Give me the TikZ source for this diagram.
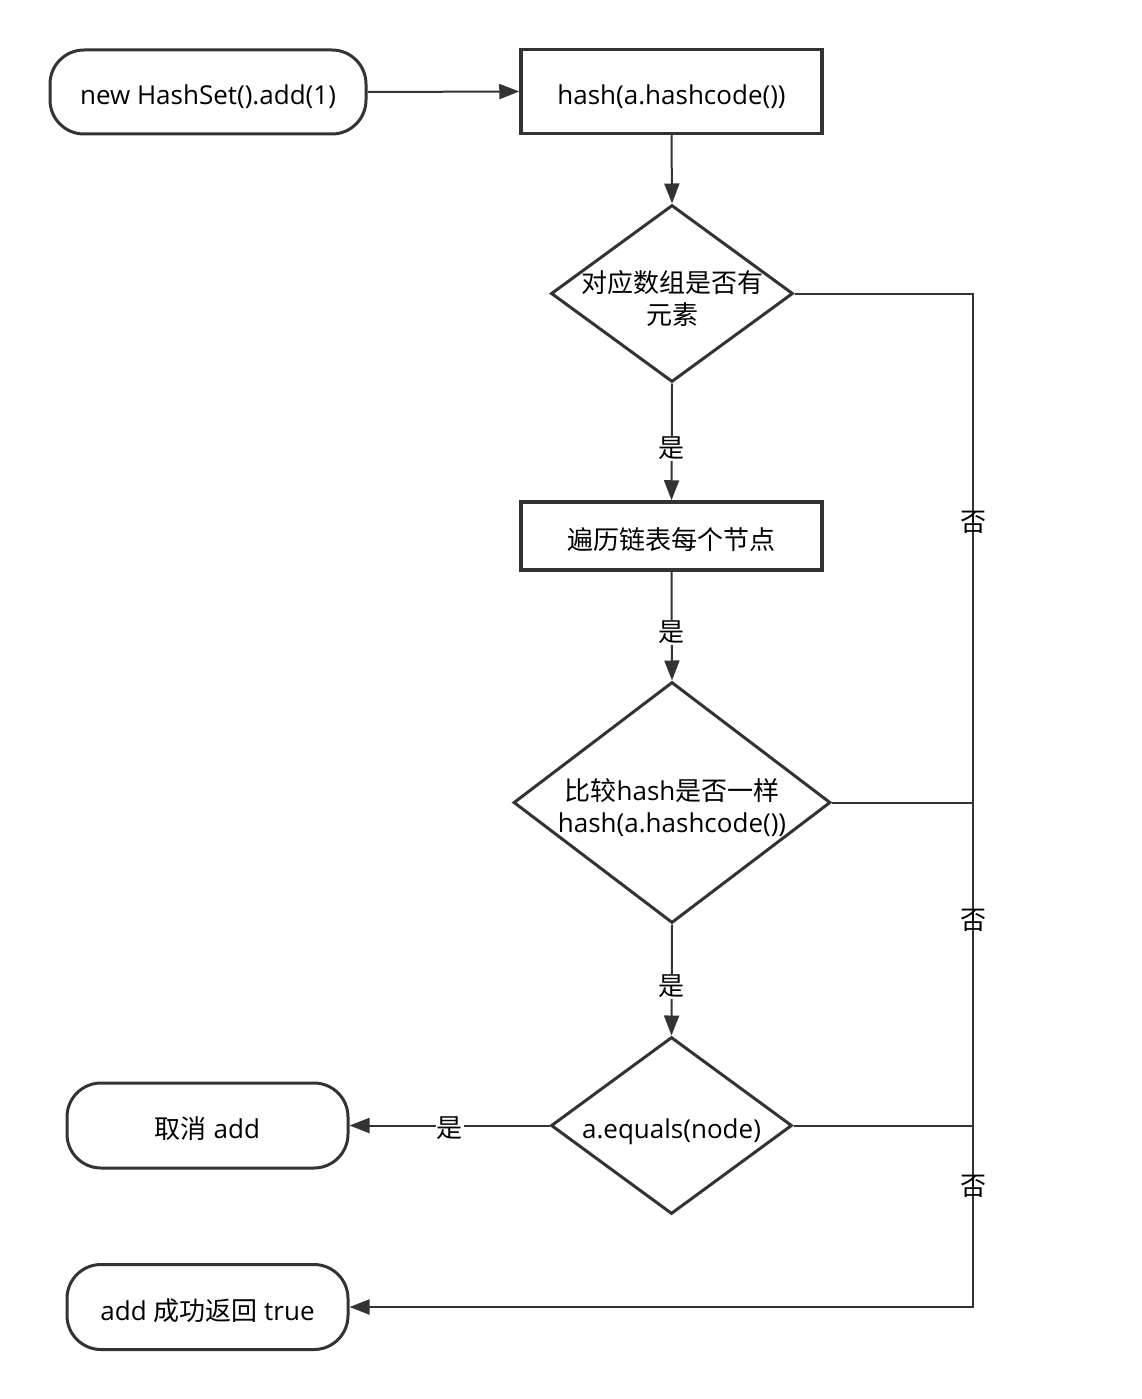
\documentclass[tikz,border=0pt]{standalone}
\usepackage{fontspec}
\setmainfont{Open Sans}
\newfontfamily\cjk{Noto Sans CJK SC}
\usetikzlibrary{shapes.geometric,arrows.meta}
\definecolor{lc}{HTML}{333333}
\begin{document}
\begin{tikzpicture}[x=1pt,y=-1pt,
  every node/.style={font=\fontsize{26}{32}\selectfont, text=black},
  tx/.style={text height=30pt, text depth=4pt},
  term/.style={tx, draw=lc, line width=3pt, rounded corners=34pt, inner sep=0pt},
  proc/.style={tx, draw=lc, line width=3.5pt, rectangle, inner sep=0pt, minimum width=301pt},
  dia/.style={draw=lc, line width=3pt, diamond, inner sep=0pt},
  conn/.style={draw=lc, line width=2pt},
  arr/.style={conn, -{Triangle[length=20pt,width=15pt]}},
  lab/.style={fill=white, inner sep=1pt, yshift=-3pt},
  nolab/.style={inner sep=0pt}]
\useasboundingbox (0,0) rectangle (1142,1399);
% nodes
\node[term, minimum width=316pt, minimum height=84pt] (start) at (208,92) {new HashSet().add(1)};
\node[proc, minimum height=84pt] (hash) at (671.5,91.5) {hash(a.hashcode())};
\node[dia, minimum width=242pt, minimum height=177pt] (d1) at (672,293.5) {};
\node[align=center] (d1t) at (672,298) {{\cjk 对应数组是否有}\\{\cjk 元素}};
\node[proc, minimum height=68pt] (walk) at (671.5,536) {\cjk 遍历链表每个节点};
\node[dia, minimum width=317pt, minimum height=241pt] (d2) at (672,802.5) {};
\node[align=center] (d2t) at (672,808) {{\cjk 比较}hash{\cjk 是否一样}\\hash(a.hashcode())};
\node[dia, minimum width=241pt, minimum height=177pt] (d3) at (671.5,1125.5) {};
\node[tx, inner sep=0pt] (d3t) at (671.5,1125.5) {a.equals(node)};
\node[term, minimum width=281pt, minimum height=85pt] (cancel) at (207.5,1125.5) {{\cjk 取消} add};
\node[term, minimum width=281pt, minimum height=85pt] (ok) at (207.5,1307) {add {\cjk 成功返回} true};
\coordinate (rx) at (973,0);
% connectors
\draw[arr] (start.east) -- (hash.west);
\draw[arr] (hash.south) -- (d1.north);
\draw[arr] (d1.south) -- node[lab, pos=0.53] (l1) {\cjk 是} (walk.north);
\draw[arr] (walk.south) -- node[lab, pos=0.53] (l2) {\cjk 是} (d2.north);
\draw[arr] (d2.south) -- node[lab, pos=0.53] (l3) {\cjk 是} (d3.north);
\draw[arr] (d3.west) -- node[lab, pos=0.5] (l4) {\cjk 是} (cancel.east);
\draw[arr] (d1.east) -- (d1.east -| rx) -- (rx |- ok.east) -- (ok.east);
\draw[conn] (d2.east) -- (d2.east -| rx);
\draw[conn] (d3.east) -- (d3.east -| rx);
\node[nolab] (n1) at (973,522) {\cjk 否};
\node[nolab] (n2) at (973,920) {\cjk 否};
\node[nolab] (n3) at (973,1186) {\cjk 否};
\end{tikzpicture}
\end{document}
